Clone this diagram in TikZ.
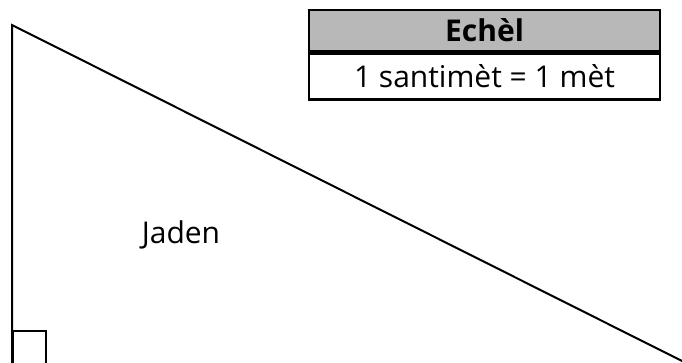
\documentclass[tikz,border=0pt]{standalone}
\usepackage{fontspec}
\setmainfont{Open Sans}
\usetikzlibrary{positioning}
\tikzset{
    scale-head/.style = {draw=black, fill=black!28, line width=2.5pt, rectangle, minimum width=351pt, minimum height=41pt, inner sep=0pt, font=\fontsize{30}{36}\selectfont\bfseries},
    scale-row/.style = {draw=black, fill=white, line width=2.5pt, rectangle, minimum width=351pt, minimum height=46pt, inner sep=0pt, font=\fontsize{30}{36}\selectfont},
    garden-text/.style = {font=\fontsize{30}{36}\selectfont, inner sep=0pt, anchor=base},
}
\begin{document}
\begin{tikzpicture}[x=1pt, y=-1pt]
\useasboundingbox (0,0) rectangle (682,362);
% the garden, its lower side runs just under the page
\coordinate (top) at (12,25);
\coordinate (corner) at (12,366);
\coordinate (tip) at (690,365);
\draw[line width=2pt, line join=miter] (corner) -- (top) -- (tip) -- cycle;
\draw[line width=1.2pt] (13,366) -- (13,331) -- (46,331) -- (46,366);
\node[garden-text] (jaden) at (181,243) {Jaden};
% scale table
\node[scale-head] (head) at (484.5,30.5) {Echèl};
\node[scale-row, below=0pt of head] (row) {1 santimèt = 1 mèt};
\end{tikzpicture}
\end{document}
